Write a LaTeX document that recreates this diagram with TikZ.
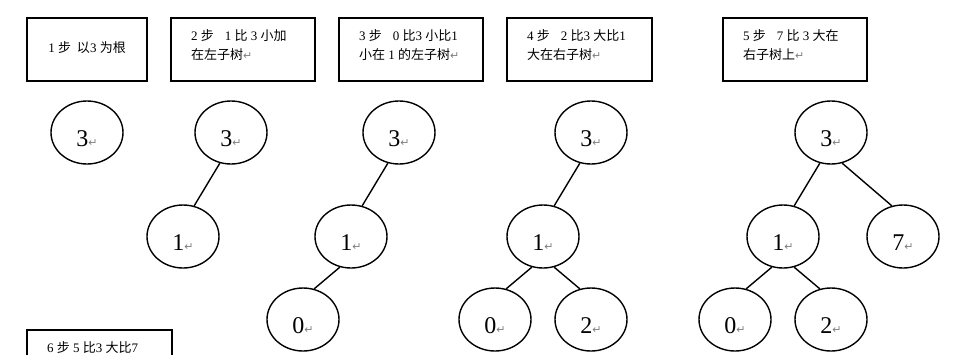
\documentclass[tikz,border=0pt]{standalone}
\usepackage{fontspec}
\setmainfont{Liberation Serif}
\newfontfamily\cjk{Noto Sans CJK SC}
\newfontfamily\symf{DejaVu Sans}
\usepackage{xcolor}
\usepackage{tikz}
\usetikzlibrary{shapes.geometric}
\newcommand{\zh}[1]{{\cjk #1}}
\newcommand{\pmark}{{\symf\fontsize{11}{11}\selectfont\color{gray}↵}}

\begin{document}
\begin{tikzpicture}[x=1pt,y=-1pt,
  stepbox/.style={draw,line width=1.8pt,minimum height=63pt,inner sep=0pt},
  steptext/.style={anchor=north west,align=left,inner sep=0pt,font=\fontsize{13}{19}\selectfont},
  key/.style={ellipse,draw,line width=1.4pt,minimum width=72pt,minimum height=63pt,inner sep=0pt,
    text height=27pt,text depth=0pt,font=\fontsize{24}{24}\selectfont},
  link/.style={line width=1.4pt}]
\useasboundingbox (0,0) rectangle (956,354);
\clip (0,0) rectangle (956,354);
% step boxes
\node[stepbox,minimum width=120pt] (b1) at (87,49.5) {};
\node[stepbox,minimum width=144pt] (b2) at (243,49.5) {};
\node[stepbox,minimum width=144pt] (b3) at (411,49.5) {};
\node[stepbox,minimum width=145pt] (b4) at (579.5,49.5) {};
\node[stepbox,minimum width=144pt] (b5) at (795,49.5) {};
\node[stepbox,minimum width=145pt] (b6) at (99.5,361.5) {};
\node[steptext,anchor=center] (s1) at (87,48) {1 \zh{步}\hspace{6pt}\zh{以}3 \zh{为根}};
\node[steptext] (s2) at (191,29.5) {2 \zh{步}\hspace{11pt}1 \zh{比} 3 \zh{小加}\\\zh{在左子树}\pmark};
\node[steptext] (s3) at (359,29.5) {3 \zh{步}\hspace{11pt}0 \zh{比}3 \zh{小比}1\\\zh{小在} 1 \zh{的左子树}\pmark};
\node[steptext] (s4) at (527,29.5) {4 \zh{步}\hspace{11pt}2 \zh{比}3 \zh{大比}1\\\zh{大在右子树}\pmark};
\node[steptext] (s5) at (743,29.5) {5 \zh{步}\hspace{11pt}7 \zh{比} 3 \zh{大在}\\\zh{右子树上}\pmark};
\node[steptext] (s6) at (47,341.5) {6 \zh{步} 5 \zh{比}3 \zh{大比}7};
% trees
\node[key] (t1n3) at (87,132.5) {3\pmark};
\node[key] (t2n3) at (231,132.5) {3\pmark};
\node[key] (t2n1) at (183,236.5) {1\pmark};
\node[key] (t3n3) at (399,132.5) {3\pmark};
\node[key] (t3n1) at (351,236.5) {1\pmark};
\node[key] (t3n0) at (303,319.5) {0\pmark};
\node[key] (t4n3) at (591,132.5) {3\pmark};
\node[key] (t4n1) at (543,236.5) {1\pmark};
\node[key] (t4n0) at (495,319.5) {0\pmark};
\node[key] (t4n2) at (591,319.5) {2\pmark};
\node[key] (t5n3) at (831,132.5) {3\pmark};
\node[key] (t5n1) at (783,236.5) {1\pmark};
\node[key] (t5n7) at (903,236.5) {7\pmark};
\node[key] (t5n0) at (735,319.5) {0\pmark};
\node[key] (t5n2) at (831,319.5) {2\pmark};
\foreach \p/\c in {t2n3/t2n1,t3n3/t3n1,t3n1/t3n0,t4n3/t4n1,t4n1/t4n0,t5n3/t5n1,t5n1/t5n0}
  \draw[link] (\p.250) -- (\c.70);
\foreach \p/\c in {t4n1/t4n2,t5n3/t5n7,t5n1/t5n2}
  \draw[link] (\p.290) -- (\c.110);
\end{tikzpicture}
\end{document}
